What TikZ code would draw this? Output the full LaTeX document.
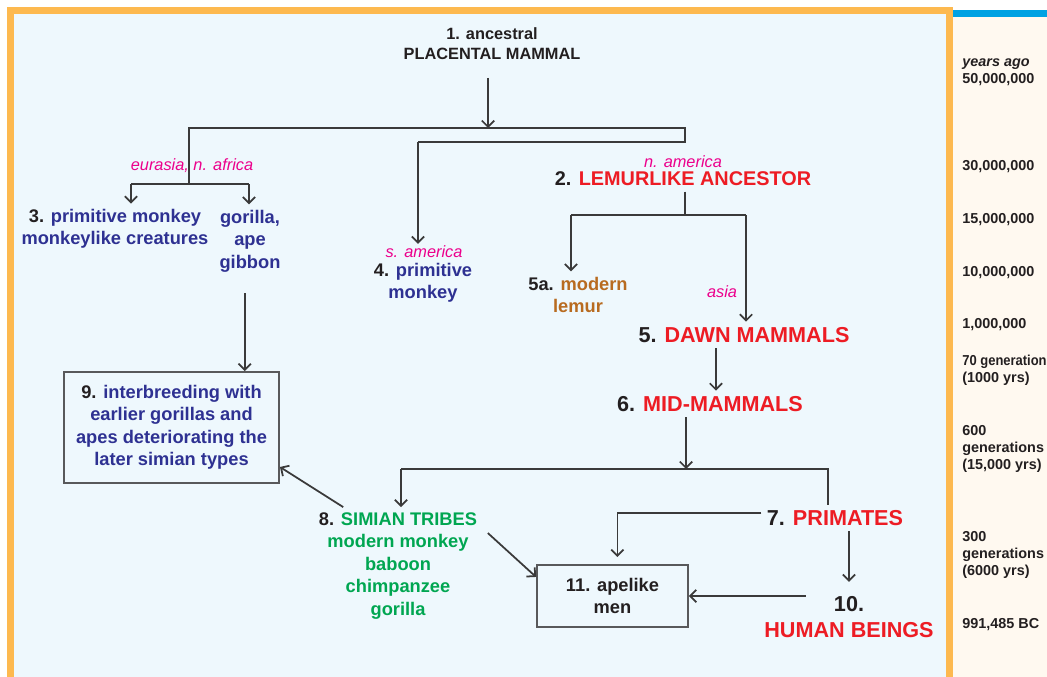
\documentclass[tikz,border=0pt]{standalone}
\usepackage{fontspec}
\setmainfont{Liberation Sans}
\usetikzlibrary{arrows.meta}
\definecolor{bgblue}{HTML}{EEF8FD}
\definecolor{frameorange}{HTML}{FDB94F}
\definecolor{cream}{HTML}{FFF9F0}
\definecolor{barblue}{HTML}{00A2E3}
\definecolor{ink}{HTML}{231F20}
\definecolor{blueink}{HTML}{2E3192}
\definecolor{redink}{HTML}{ED1C24}
\definecolor{greenink}{HTML}{00A651}
\definecolor{brownink}{HTML}{B86B20}
\definecolor{pinkink}{HTML}{EC008C}
\definecolor{linegray}{HTML}{3A3A3A}
\definecolor{boxgray}{HTML}{58595B}
\tikzset{ tx/.style = { align = center % text node
        , inner sep = 3pt
        , font = \fontsize{10.4}{12.8}\selectfont\bfseries
        , text = ink
        }
        , pl/.style = { inner sep = 1pt % place
        , font = \fontsize{9.3}{11}\selectfont\itshape
        , text = pinkink
        }
        , yr/.style = { anchor = west % years column
        , align = left
        , inner sep = 0pt
        , font = \fontsize{8.2}{9.8}\selectfont\bfseries
        , text = ink
        }
        }

\begin{document}
\begin{tikzpicture}[x=0.02cm, y=-0.02cm, >={Straight Barb[length=3.5pt,width=7pt]},
        title_style/.style={tx,font=\fontsize{9.3}{11.4}\selectfont\bfseries},
        big_style/.style={tx,font=\fontsize{12.3}{15}\selectfont\bfseries,text=redink},
        box_style/.style={tx,draw=boxgray,line width=1.1pt,fill=bgblue},
        edge_style/.style={draw=linegray, line width=1pt, ->},
        line_style/.style={draw=linegray, line width=1pt}]
        \useasboundingbox (0,0) rectangle (1047,676);
        \fill [white] (0,0) rectangle (1047,676);
        \fill [frameorange] (7,7) rectangle (953,690);
        \fill [bgblue] (14,14) rectangle (946,690);
        \fill [cream] (953,17) rectangle (1047,690);
        \fill [barblue] (953,10) rectangle (1047,17);

        \node [title_style] (n1) at (492,44) {1. ancestral\\PLACENTAL MAMMAL};
        \node [big_style,font=\fontsize{11.3}{14}\selectfont\bfseries] (n2) at (683,179) {\textcolor{ink}{2.} LEMURLIKE ANCESTOR};
        \node [pl] (p2) at (683,162) {n. america};
        \node [pl] (p3) at (192,166) {eurasia, n. africa};
        \node [tx,text=blueink] (n3) at (115,229) {\textcolor{ink}{3.} primitive monkey\\monkeylike creatures};
        \node [tx,text=blueink] (n3b) at (250,241) {gorilla,\\ape\\gibbon};
        \node [pl] (p4) at (424,252) {s. america};
        \node [tx,text=blueink] (n4) at (423,283) {\textcolor{ink}{4.} primitive\\monkey};
        \node [tx,text=brownink] (n5a) at (578,295) {\textcolor{ink}{5a.} modern\\lemur};
        \node [pl] (p5) at (722,292) {asia};
        \node [big_style] (n5) at (744,335) {\textcolor{ink}{5.} DAWN MAMMALS};
        \node [big_style] (n6) at (710,404) {\textcolor{ink}{6.} MID-MAMMALS};
        \node [big_style] (n7) at (835,518) {\textcolor{ink}{7.} PRIMATES};
        \node [tx,text=greenink] (n8) at (398,566) {\textcolor{ink}{8.} SIMIAN TRIBES\\modern monkey\\baboon\\chimpanzee\\gorilla};
        \node [box_style,text=blueink,minimum width=4.3cm,minimum height=2.22cm] (n9) at (171.5,427.5) {\textcolor{ink}{9.} interbreeding with\\earlier gorillas and\\apes deteriorating the\\later simian types};
        \node [big_style,text=ink] (n10) at (849,604) {10.};
        \node [big_style] (h10) at (849,630) {HUMAN BEINGS};
        \node [box_style,minimum width=3.02cm,minimum height=1.24cm] (n11) at (612.5,596) {11. apelike\\men};

        % years column
        \node [yr] (y1) at (962,72) {\itshape years ago\\50,000,000};
        \node [yr] (y2) at (962,167) {30,000,000};
        \node [yr] (y3) at (962,220) {15,000,000};
        \node [yr] (y4) at (962,273) {10,000,000};
        \node [yr] (y5) at (962,325) {1,000,000};
        \node [yr] (y6) at (962,370) {\scalebox{0.9}[1]{70 generations}\\(1000 yrs)};
        \node [yr] (y7) at (962,449) {600\\generations\\(15,000 yrs)};
        \node [yr] (y8) at (962,555) {300\\generations\\(6000 yrs)};
        \node [yr] (y9) at (962,625) {991,485 BC};

        \coordinate (j1) at (488,128);
        \coordinate (j2) at (189,128);
        \coordinate (j3) at (189,184);
        \coordinate (j4) at (685,128);
        \coordinate (j5) at (685,142);
        \coordinate (j6) at (418,142);
        \coordinate (j7) at (131,184);
        \coordinate (j8) at (249,184);
        \draw [edge_style, shorten <=7pt] (n1.south -| j1) -- (j1);
        \draw [line_style] (j3) -- (j2) -- (j4) -- (j5) -- (j6);
        \draw [edge_style] (j6) -- (j6 |- p4.north);
        \draw [line_style] (j7) -- (j8);
        \draw [edge_style] (j7) -- (j7 |- n3.north);
        \draw [edge_style] (j8) -- (j8 |- n3b.north);
        \draw [edge_style, shorten <=9pt] ([xshift=-3pt]n3b.south) -- ([xshift=-3pt]n3b.south |- n9.north);

        \coordinate (k1) at (685,215);
        \coordinate (k2) at (571,215);
        \coordinate (k3) at (746,215);
        \draw [line_style] (n2.south -| k1) -- (k1);
        \draw [line_style] (k2) -- (k3);
        \draw [edge_style] (k2) -- (k2 |- n5a.north);
        \draw [edge_style] (k3) -- (k3 |- n5.north);
        \draw [edge_style] ([xshift=3.4pt]n6.north |- n5.south) -- ([xshift=3.4pt]n6.north);

        \coordinate (q1) at (686,469);
        \coordinate (q2) at (401,469);
        \coordinate (q3) at (828,469);
        \draw [edge_style] (n6.south -| q1) -- (q1);
        \draw [line_style] (n7.north -| q3) -- (q3) -- (q2);
        \draw [edge_style] (q2) -- (q2 |- n8.north);
        \draw [edge_style, shorten >=4pt] ([yshift=3pt]n7.west) -| ([xshift=2.8pt]n11.north);
        \draw [edge_style, shorten >=5pt] (n7.south -| n10.north) -- (n10.north);
        \draw [edge_style] ([xshift=-13pt]n10.west |- n11.east) -- (n11.east);
        \draw [edge_style] ([xshift=17pt]n8.north west) -- (n9.-20);
        \draw [edge_style, shorten <=4pt] (n8.24) -- (n11.166);
\end{tikzpicture}
\end{document}
